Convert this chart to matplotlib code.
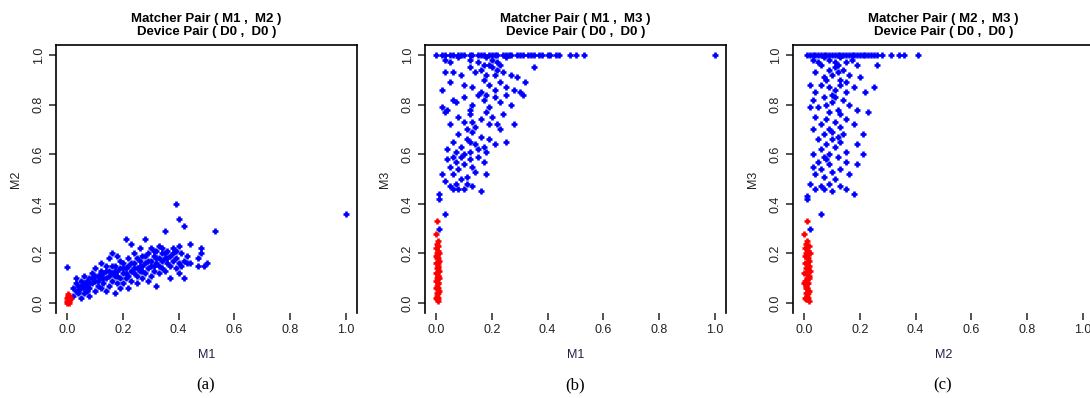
import numpy as np
import matplotlib
matplotlib.use('Agg')
import matplotlib.pyplot as plt

plt.rcParams['font.family'] = ['Liberation Sans', 'DejaVu Sans']

# ---- panel (a): M1 vs M2 ----
a_blue_x = [0.02, 0.02, 0.03, 0.03, 0.03, 0.04, 0.04, 0.05, 0.05, 0.05, 0.06, 0.06, 0.06, 0.07, 0.07, 0.07,
            0.08, 0.08, 0.08, 0.09, 0.09, 0.10, 0.10, 0.10, 0.11, 0.11, 0.12, 0.12, 0.12, 0.12, 0.13,
            0.13, 0.14, 0.14, 0.14, 0.15, 0.15, 0.15, 0.16, 0.16, 0.16, 0.17, 0.17, 0.17, 0.18, 0.18, 0.18, 0.19, 0.19, 0.19,
            0.20, 0.20, 0.20, 0.21, 0.21, 0.21, 0.22, 0.22, 0.22, 0.23, 0.23, 0.23, 0.24, 0.24, 0.24, 0.25, 0.25, 0.25,
            0.26, 0.26, 0.26, 0.27, 0.27, 0.27,
            0.28, 0.28, 0.28, 0.29, 0.29, 0.29, 0.30, 0.30, 0.30, 0.31, 0.31, 0.31, 0.32, 0.32, 0.32, 0.33, 0.33, 0.33,
            0.34, 0.34, 0.34, 0.35,
            0.35, 0.35, 0.36, 0.36, 0.37, 0.37, 0.37, 0.38, 0.38, 0.39, 0.39, 0.40, 0.40, 0.40, 0.41, 0.42, 0.42, 0.43,
            0.44, 0.44,
            0.04, 0.05, 0.06, 0.08, 0.09, 0.10, 0.11, 0.12, 0.13, 0.14, 0.15, 0.16, 0.17, 0.18, 0.19, 0.20, 0.21, 0.22,
            0.23, 0.24, 0.25, 0.26, 0.27, 0.28, 0.29, 0.30, 0.31, 0.32, 0.33, 0.34, 0.35, 0.36, 0.38, 0.39, 0.41, 0.43,
            0.39, 0.40, 0.42, 0.53, 1.00, 0.00, 0.47, 0.48, 0.48, 0.49, 0.50, 0.47]
a_blue_y = [0.03, 0.06, 0.05, 0.08, 0.10, 0.04, 0.07, 0.02, 0.09, 0.06, 0.04, 0.08, 0.11, 0.05, 0.09, 0.07,
            0.03, 0.06, 0.10, 0.08, 0.12, 0.05, 0.09, 0.14, 0.07, 0.11, 0.06, 0.10, 0.13, 0.16, 0.08,
            0.12, 0.05, 0.10, 0.15, 0.07, 0.13, 0.18, 0.09, 0.12, 0.20, 0.04, 0.11, 0.15, 0.08, 0.13, 0.19, 0.06, 0.10, 0.14,
            0.08, 0.12, 0.16, 0.10, 0.14, 0.26, 0.06, 0.11, 0.18, 0.09, 0.13, 0.24, 0.12, 0.16, 0.20, 0.08, 0.14, 0.11,
            0.13, 0.17, 0.22, 0.10, 0.15, 0.19,
            0.12, 0.16, 0.26, 0.09, 0.14, 0.20, 0.11, 0.17, 0.22, 0.13, 0.15, 0.19, 0.07, 0.16, 0.21, 0.12, 0.18, 0.23,
            0.14, 0.17, 0.20, 0.29,
            0.13, 0.18, 0.16, 0.21, 0.10, 0.15, 0.19, 0.17, 0.22, 0.14, 0.18, 0.12, 0.16, 0.23, 0.20, 0.17, 0.10, 0.16,
            0.24, 0.16,
            0.05, 0.07, 0.06, 0.08, 0.10, 0.11, 0.09, 0.12, 0.10, 0.13, 0.11, 0.15, 0.13, 0.11, 0.17, 0.14, 0.12, 0.15,
            0.16, 0.14, 0.18, 0.15, 0.13, 0.19, 0.17, 0.15, 0.21, 0.18, 0.15, 0.22, 0.20, 0.18, 0.20, 0.21, 0.15, 0.19,
            0.40, 0.34, 0.31, 0.29, 0.36, 0.145, 0.15, 0.20, 0.22, 0.15, 0.16, 0.18]
a_red_x = [0.000, 0.000, 0.000, 0.003, 0.003, 0.005, 0.005, 0.007, 0.008, 0.010, 0.010, 0.002, 0.006, 0.004]
a_red_y = [0.000, 0.010, 0.020, 0.005, 0.025, 0.012, 0.030, 0.018, 0.008, 0.015, 0.022, 0.035, 0.002, 0.028]

# ---- panel (b): M1 vs M3 ----
b_top_x = [0.00, 0.02, 0.03, 0.05, 0.06, 0.08, 0.09, 0.10, 0.12, 0.13, 0.15, 0.16, 0.17, 0.19, 0.20, 0.21, 0.22,
           0.24, 0.25, 0.26, 0.27, 0.29, 0.30, 0.31, 0.33, 0.34, 0.35, 0.37, 0.38, 0.40, 0.41, 0.43, 0.44,
           0.48, 0.50, 0.53, 1.00]
b_blue_x = [0.03, 0.05, 0.08, 0.12, 0.15, 0.18, 0.20, 0.22, 0.25, 0.19, 0.23,
            0.03, 0.06, 0.09, 0.12, 0.14, 0.16, 0.18, 0.20, 0.22, 0.24, 0.27, 0.29, 0.35, 0.32, 0.17, 0.21,
            0.02, 0.05, 0.10, 0.13, 0.17, 0.19, 0.21, 0.23, 0.25, 0.28, 0.31, 0.16, 0.06,
            0.02, 0.04, 0.07, 0.10, 0.13, 0.15, 0.17, 0.19, 0.21, 0.23, 0.25, 0.27, 0.30, 0.12, 0.18,
            0.03, 0.05, 0.08, 0.10, 0.12, 0.14, 0.16, 0.18, 0.20, 0.22, 0.24, 0.28, 0.11, 0.13, 0.19, 0.23,
            0.04, 0.06, 0.08, 0.09, 0.11, 0.12, 0.13, 0.14, 0.15, 0.16, 0.17, 0.19, 0.21, 0.25, 0.10, 0.18, 0.07, 0.12,
            0.02, 0.04, 0.05, 0.06, 0.07, 0.08, 0.09, 0.10, 0.11, 0.12, 0.13, 0.14, 0.15, 0.17, 0.18, 0.09, 0.06,
            0.01, 0.01, 0.03, 0.05, 0.06, 0.08, 0.10, 0.11, 0.13, 0.16, 0.07,
            0.03, 0.01]
b_blue_y = [0.98, 0.97, 0.99, 0.98, 0.97, 0.99, 0.98, 0.97, 0.99, 0.96, 0.96,
            0.93, 0.93, 0.92, 0.95, 0.93, 0.94, 0.92, 0.95, 0.94, 0.93, 0.92, 0.91, 0.95, 0.89, 0.96, 0.92,
            0.86, 0.89, 0.88, 0.87, 0.90, 0.88, 0.86, 0.89, 0.87, 0.86, 0.84, 0.85, 0.82,
            0.79, 0.78, 0.81, 0.83, 0.80, 0.84, 0.82, 0.79, 0.83, 0.81, 0.84, 0.80, 0.85, 0.78, 0.84,
            0.77, 0.72, 0.75, 0.73, 0.76, 0.71, 0.74, 0.77, 0.75, 0.72, 0.76, 0.72, 0.70, 0.73, 0.72, 0.70,
            0.62, 0.65, 0.68, 0.63, 0.66, 0.61, 0.69, 0.64, 0.62, 0.67, 0.63, 0.66, 0.64, 0.65, 0.60, 0.61, 0.61, 0.65,
            0.52, 0.58, 0.55, 0.52, 0.57, 0.54, 0.59, 0.56, 0.51, 0.58, 0.55, 0.53, 0.59, 0.57, 0.52, 0.50, 0.59,
            0.44, 0.42, 0.49, 0.47, 0.46, 0.46, 0.46, 0.48, 0.47, 0.45, 0.48,
            0.36, 0.30]
b_red_x = [0.003, 0.000, 0.005, 0.002, 0.008, 0.000, 0.006, 0.003, 0.009, 0.001, 0.007, 0.004, 0.010, 0.000,
           0.005, 0.008, 0.002, 0.006, 0.009, 0.003, 0.000, 0.007, 0.004, 0.010, 0.001, 0.006, 0.008, 0.003,
           0.005, 0.000, 0.009, 0.002, 0.006, 0.004, 0.007, 0.001, 0.008, 0.003, 0.005, 0.002]
b_red_y = [0.33, 0.28, 0.25, 0.24, 0.23, 0.22, 0.21, 0.20, 0.20, 0.19, 0.18, 0.18, 0.17, 0.16, 0.16, 0.15,
           0.14, 0.14, 0.13, 0.12, 0.12, 0.11, 0.10, 0.10, 0.09, 0.08, 0.08, 0.07, 0.06, 0.06, 0.05, 0.04,
           0.04, 0.03, 0.02, 0.02, 0.01, 0.015, 0.11, 0.19]

# ---- panel (c): M2 vs M3 ----
c_top_x = [0.01, 0.02, 0.03, 0.04, 0.05, 0.06, 0.07, 0.08, 0.09, 0.10, 0.11, 0.12, 0.13, 0.14, 0.15, 0.16,
           0.17, 0.18, 0.19, 0.20, 0.21, 0.22, 0.23, 0.24, 0.25, 0.26, 0.28, 0.31, 0.34, 0.36, 0.41]
c_blue_x = [0.03, 0.05, 0.07, 0.09, 0.11, 0.13, 0.15, 0.17, 0.19, 0.06, 0.12,
            0.04, 0.07, 0.09, 0.10, 0.12, 0.13, 0.14, 0.16, 0.20, 0.26, 0.11, 0.08, 0.15,
            0.02, 0.04, 0.06, 0.09, 0.11, 0.13, 0.15, 0.18, 0.22, 0.25, 0.10,
            0.03, 0.05, 0.07, 0.08, 0.10, 0.12, 0.14, 0.16, 0.19, 0.23, 0.02, 0.09, 0.13, 0.11,
            0.04, 0.06, 0.08, 0.09, 0.11, 0.13, 0.15, 0.18, 0.21, 0.03, 0.10, 0.07, 0.14,
            0.05, 0.06, 0.08, 0.09, 0.10, 0.11, 0.12, 0.13, 0.15, 0.19, 0.21, 0.03, 0.07, 0.12,
            0.03, 0.04, 0.05, 0.06, 0.07, 0.09, 0.10, 0.11, 0.13, 0.15, 0.16, 0.19, 0.08,
            0.02, 0.04, 0.06, 0.07, 0.09, 0.10, 0.13, 0.15, 0.18, 0.01, 0.01,
            0.06, 0.02]
c_blue_y = [0.98, 0.97, 0.99, 0.98, 0.97, 0.99, 0.97, 0.98, 0.96, 0.96, 0.96,
            0.93, 0.91, 0.94, 0.92, 0.93, 0.90, 0.94, 0.92, 0.91, 0.96, 0.95, 0.90, 0.89,
            0.88, 0.85, 0.88, 0.87, 0.86, 0.88, 0.85, 0.87, 0.85, 0.87, 0.84,
            0.82, 0.79, 0.83, 0.80, 0.81, 0.78, 0.82, 0.80, 0.78, 0.77, 0.79, 0.77, 0.76, 0.83,
            0.75, 0.72, 0.74, 0.70, 0.73, 0.71, 0.74, 0.72, 0.68, 0.70, 0.69, 0.68, 0.68,
            0.66, 0.62, 0.64, 0.60, 0.66, 0.63, 0.59, 0.65, 0.61, 0.64, 0.60, 0.60, 0.59, 0.67,
            0.55, 0.52, 0.57, 0.54, 0.51, 0.56, 0.53, 0.50, 0.54, 0.57, 0.52, 0.56, 0.58,
            0.48, 0.46, 0.47, 0.46, 0.48, 0.45, 0.47, 0.46, 0.44, 0.43, 0.42,
            0.36, 0.30]
c_red_x = [0.010, 0.000, 0.012, 0.005, 0.018, 0.003, 0.015, 0.008, 0.020, 0.002, 0.014, 0.009, 0.019, 0.004,
           0.011, 0.017, 0.006, 0.013, 0.020, 0.007, 0.001, 0.016, 0.010, 0.018, 0.003, 0.012, 0.015, 0.008,
           0.011, 0.005, 0.017, 0.006, 0.013, 0.009, 0.014, 0.004, 0.016, 0.007, 0.000, 0.010]
c_red_y = [0.33, 0.28, 0.25, 0.24, 0.23, 0.22, 0.21, 0.20, 0.20, 0.19, 0.18, 0.18, 0.17, 0.16, 0.16, 0.15,
           0.14, 0.14, 0.13, 0.12, 0.12, 0.11, 0.10, 0.10, 0.09, 0.08, 0.08, 0.07, 0.06, 0.06, 0.05, 0.04,
           0.04, 0.03, 0.02, 0.02, 0.01, 0.015, 0.08, 0.19]

ticks = [0.0, 0.2, 0.4, 0.6, 0.8, 1.0]
tick_labels = ['0.0', '0.2', '0.4', '0.6', '0.8', '1.0']

panels = [
    dict(bx=a_blue_x, by=a_blue_y, rx=a_red_x, ry=a_red_y,
         pair=('M1', 'M2'), cap='(a)', left=56),
    dict(bx=b_blue_x + b_top_x, by=b_blue_y + [1.0] * len(b_top_x), rx=b_red_x, ry=b_red_y,
         pair=('M1', 'M3'), cap='(b)', left=425),
    dict(bx=c_blue_x + c_top_x, by=c_blue_y + [1.0] * len(c_top_x), rx=c_red_x, ry=c_red_y,
         pair=('M2', 'M3'), cap='(c)', left=793),
]

W, H = 1090, 398
fig = plt.figure(figsize=(W / 100, H / 100), dpi=100)

for p in panels:
    ax = fig.add_axes([p['left'] / W, 1 - 313 / H, 301 / W, 268 / H])
    ax.plot(p['bx'], p['by'], ls='none', marker='+', ms=4.5, mew=1.9, color='#0000ff')
    ax.plot(p['rx'], p['ry'], ls='none', marker='+', ms=4.5, mew=1.9, color='#ff0000')
    ax.set_xlim(-0.04, 1.04)
    ax.set_ylim(-0.04, 1.04)
    ax.spines['bottom'].set_visible(False)
    for s in ['left', 'top', 'right']:
        ax.spines[s].set_linewidth(1.2)
    ax.set_xticks(ticks)
    ax.set_xticklabels(tick_labels)
    ax.set_yticks(ticks)
    ax.set_yticklabels(tick_labels, rotation=90, va='center')
    ax.tick_params(axis='both', direction='out', length=5, width=1.1, labelsize=9, pad=3, colors='#222222')
    ax.set_xlabel(p['pair'][0], fontsize=9, labelpad=9, color='#222244')
    ax.set_ylabel(p['pair'][1], fontsize=9, labelpad=8, color='#222222')
    ax.set_title('Matcher Pair ( %s ,  %s )\nDevice Pair ( D0 ,  D0 )' % p['pair'],
                 fontsize=9.5, fontweight='bold', linespacing=1.1, pad=7)
    cx = (p['left'] + 150) / W
    fig.text(cx, 1 - 385 / H, p['cap'], ha='center', va='center', fontsize=12,
             family=['Liberation Serif', 'DejaVu Serif'])

fig.savefig('out.png', dpi=100)
